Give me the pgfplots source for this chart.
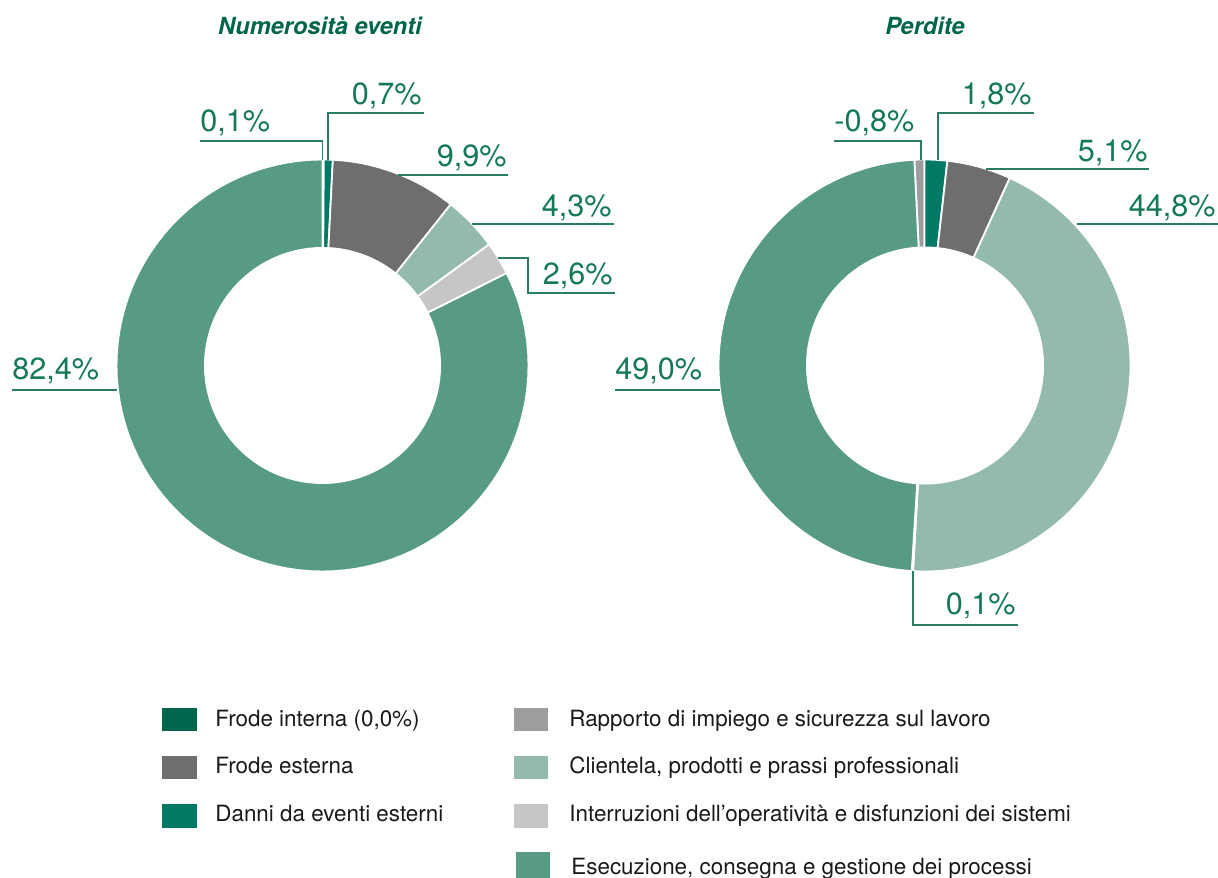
\documentclass[border=0pt]{standalone}
\usepackage{pgfplots}
\pgfplotsset{compat=1.18}
\usepackage{fontspec}
\setmainfont{TeX Gyre Heros}
\definecolor{cFI}{HTML}{00664B}
\definecolor{cFE}{HTML}{6E6E6E}
\definecolor{cDA}{HTML}{007A64}
\definecolor{cRA}{HTML}{9D9D9D}
\definecolor{cCL}{HTML}{93BAAB}
\definecolor{cIN}{HTML}{C6C6C6}
\definecolor{cES}{HTML}{579B86}
\definecolor{cTX}{HTML}{16785A}
\definecolor{cLN}{HTML}{2A7D62}
\definecolor{cTI}{HTML}{00664B}

% donut helpers: centre, total, start angle
\newcommand{\startdonut}[4]{\gdef\dcx{#1}\gdef\dcy{#2}\gdef\dtot{#3}\gdef\dstart{(#4)}\gdef\dcum{0}}
\newcommand{\slice}[2]{%
  \pgfmathsetmacro\aA{\dstart-\dcum/\dtot*360}%
  \pgfmathsetmacro\aB{\dstart-(\dcum+abs(#1))/\dtot*360}%
  \edef\doslice{\noexpand\addplot[fill=#2, draw=white, line width=0.9pt, domain=\aB:\aA, samples=90]
     ({\dcx+206*cos(x)},{\dcy+206*sin(x)}) -- (axis cs:\dcx,\dcy) -- cycle;}%
  \doslice
  \pgfmathsetmacro\tmpc{\dcum+abs(#1)}\xdef\dcum{\tmpc}%
}
\newcommand{\hole}[3]{%
  \addplot[fill=white, draw=none, domain=0:360, samples=180] ({#1+#3*cos(x)},{#2+#3*sin(x)}) -- cycle;}

\newcommand{\pct}{\fontsize{15.3}{18}\selectfont}
\newcommand{\lgd}{\fontsize{11.2}{13}\selectfont}

\begin{document}
\begin{tikzpicture}
\begin{axis}[
  name=ax, at={(0,0)}, anchor=south west,
  width=609pt, height=438.5pt, scale only axis,
  xmin=0, xmax=1218, ymin=0, ymax=877,
  hide axis, clip=false]

% ---- Numerosita eventi (values in %) ----
\startdonut{322.5}{511.5}{100}{90}
\slice{0.1}{cRA}
\slice{0.7}{cDA}
\slice{9.9}{cFE}
\slice{4.3}{cCL}
\slice{2.6}{cIN}
\slice{82.4}{cES}
\hole{322.5}{511.5}{118.5}

% ---- Perdite (values in %) ----
\startdonut{924.5}{511.5}{101.6}{90+0.8/101.6*360}
\slice{-0.8}{cRA}
\slice{1.8}{cDA}
\slice{5.1}{cFE}
\slice{44.8}{cCL}
\slice{0.1}{cIN}
\slice{49.0}{cES}
\hole{925}{511.5}{119}

% leader lines
\begin{scope}[cLN, line width=0.65pt]
\draw (axis cs:322.5,717) -- (axis cs:322.5,736) -- (axis cs:200,736);
\draw (axis cs:328,717) -- (axis cs:328,764) -- (axis cs:424,764);
\draw (axis cs:398,702) -- (axis cs:508,702);
\draw (axis cs:472,653) -- (axis cs:614,653);
\draw (axis cs:498,619) -- (axis cs:528,619) -- (axis cs:528,584) -- (axis cs:615,584);
\draw (axis cs:12,487) -- (axis cs:117,487);
\draw (axis cs:921,717) -- (axis cs:921,736) -- (axis cs:834,736);
\draw (axis cs:938,717) -- (axis cs:938,764) -- (axis cs:1034,764);
\draw (axis cs:986,708) -- (axis cs:1149,708);
\draw (axis cs:1077,653) -- (axis cs:1218,653);
\draw (axis cs:913,306) -- (axis cs:913,252) -- (axis cs:1018,252);
\draw (axis cs:615,487) -- (axis cs:720,487);
\end{scope}

% percentage labels
\begin{scope}[every node/.style={inner sep=0pt, text=cTX, font=\pct}]
\node[anchor=base west] at (axis cs:200,745) {0,1\%};
\node[anchor=base east] at (axis cs:422,772) {0,7\%};
\node[anchor=base east] at (axis cs:507,710) {9,9\%};
\node[anchor=base east] at (axis cs:612,660) {4,3\%};
\node[anchor=base east] at (axis cs:613,592) {2,6\%};
\node[anchor=base west] at (axis cs:12,497) {82,4\%};
\node[anchor=base west] at (axis cs:834,745) {-0,8\%};
\node[anchor=base east] at (axis cs:1032,772) {1,8\%};
\node[anchor=base east] at (axis cs:1148,715) {5,1\%};
\node[anchor=base east] at (axis cs:1216,660) {44,8\%};
\node[anchor=base east] at (axis cs:1016,262) {0,1\%};
\node[anchor=base west] at (axis cs:615,497) {49,0\%};
\end{scope}

% titles
\node[anchor=base, inner sep=0pt, text=cTI, font=\fontsize{11.8}{14}\selectfont\bfseries\itshape] at (axis cs:320,842) {Numerosità eventi};
\node[anchor=base, inner sep=0pt, text=cTI, font=\fontsize{11.8}{14}\selectfont\bfseries\itshape] at (axis cs:925,842) {Perdite};

% legend
\fill[cFI] (axis cs:162,169) rectangle (axis cs:197,146);
\fill[cFE] (axis cs:162,121) rectangle (axis cs:197,98);
\fill[cDA] (axis cs:162,73) rectangle (axis cs:197,49);
\fill[cRA] (axis cs:514,169) rectangle (axis cs:548,146);
\fill[cCL] (axis cs:514,121) rectangle (axis cs:548,98);
\fill[cIN] (axis cs:514,73) rectangle (axis cs:548,49);
\fill[cES] (axis cs:516,25) rectangle (axis cs:550,-3);
\begin{scope}[every node/.style={inner sep=0pt, anchor=base west, text=black!90, font=\lgd}]
\node at (axis cs:215,150) {Frode interna (0,0\%)};
\node at (axis cs:215,103) {Frode esterna};
\node at (axis cs:215,55) {Danni da eventi esterni};
\node at (axis cs:569,150) {Rapporto di impiego e sicurezza sul lavoro};
\node at (axis cs:569,103) {Clientela, prodotti e prassi professionali};
\node at (axis cs:569,55) {Interruzioni dell’operatività e disfunzioni dei sistemi};
\node at (axis cs:571,3) {Esecuzione, consegna e gestione dei processi};
\end{scope}
\end{axis}
\pgfresetboundingbox
\useasboundingbox (ax.south west) rectangle (ax.north east);
\end{tikzpicture}
\end{document}
